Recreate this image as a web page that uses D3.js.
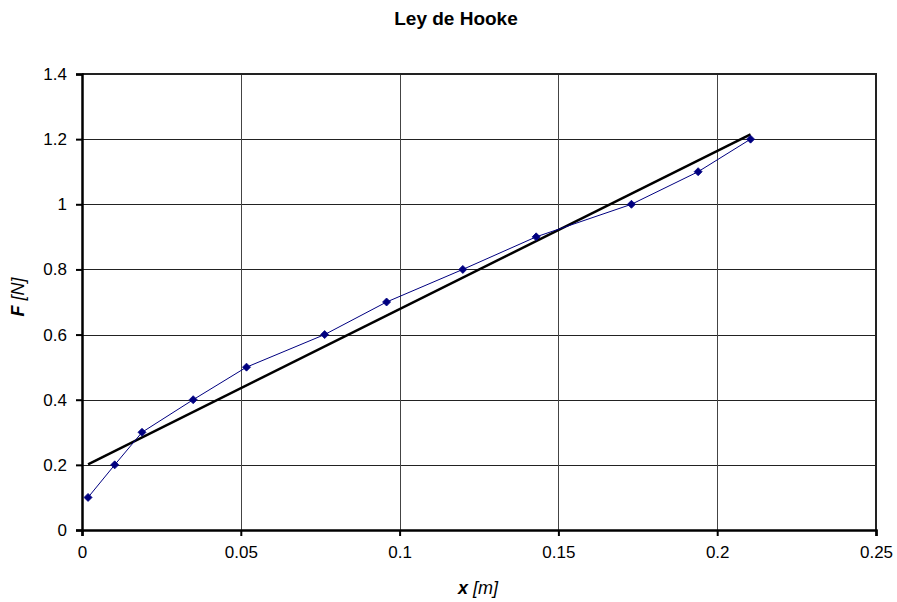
<!DOCTYPE html>
<html>
<head>
<meta charset="utf-8">
<title>Ley de Hooke</title>
<script src="https://d3js.org/d3.v7.min.js"></script>
<style>
  body { margin: 0; background: #fff; }
  text { font-family: "Liberation Sans", Arial, sans-serif; fill: #000; }
</style>
</head>
<body>
<svg id="chart" width="897" height="602"></svg>
<script>
// elongation [m] and force [N]
var xData = [0.0019, 0.0103, 0.0189, 0.035, 0.0518, 0.0764, 0.0959, 0.1199, 0.143, 0.173, 0.194, 0.2105];
var fData = [0.1, 0.2, 0.3, 0.4, 0.5, 0.6, 0.7, 0.8, 0.9, 1.0, 1.1, 1.2];
var xTicks = [0, 0.05, 0.1, 0.15, 0.2, 0.25];
var yTicks = [0, 0.2, 0.4, 0.6, 0.8, 1, 1.2, 1.4];

var svg = d3.select("#chart");
var pLeft = 82, pRight = 876, pTop = 74, pBottom = 530;

var x = d3.scaleLinear().domain([0, 0.25]).range([pLeft, pRight]);
var y = d3.scaleLinear().domain([0, 1.4]).range([pBottom, pTop]);

// gridlines
svg.append("g").selectAll("line")
  .data(yTicks.slice(1))
  .enter().append("line")
    .attr("x1", pLeft).attr("x2", pRight)
    .attr("y1", function(d) { return Math.round(y(d)) + 0.5; })
    .attr("y2", function(d) { return Math.round(y(d)) + 0.5; })
    .attr("stroke", "#222").attr("stroke-width", 1);

svg.append("g").selectAll("line")
  .data(xTicks.slice(1, -1))
  .enter().append("line")
    .attr("y1", pTop).attr("y2", pBottom)
    .attr("x1", function(d) { return Math.round(x(d)) + 0.5; })
    .attr("x2", function(d) { return Math.round(x(d)) + 0.5; })
    .attr("stroke", "#444").attr("stroke-width", 1);

// plot frame (top / right)
svg.append("path")
  .attr("d", "M" + pLeft + "," + pTop + "H" + pRight + "V" + pBottom)
  .attr("fill", "none").attr("stroke", "#222").attr("stroke-width", 2);

// axes
var xAxis = svg.append("g")
  .attr("transform", "translate(0," + pBottom + ")")
  .call(d3.axisBottom(x).tickValues(xTicks).tickSize(6).tickPadding(10)
    .tickFormat(function(d) { return String(+d.toFixed(2)); }));
var yAxis = svg.append("g")
  .attr("transform", "translate(" + pLeft + ",0)")
  .call(d3.axisLeft(y).tickValues(yTicks).tickSize(6).tickPadding(9)
    .tickFormat(function(d) { return String(+d.toFixed(1)); }));

[xAxis, yAxis].forEach(function(a) {
  a.select(".domain").attr("stroke", "#000").attr("stroke-width", 2.5);
  a.selectAll(".tick line").attr("stroke", "#000").attr("stroke-width", 2);
  a.selectAll(".tick text").style("font-size", "17px")
    .style("font-family", "'Liberation Sans', Arial, sans-serif").attr("fill", "#000");
});

// least-squares trendline
var mx = d3.mean(xData),
    my = d3.mean(fData),
    sxy = d3.sum(xData, function(d, i) { return (d - mx) * (fData[i] - my); }),
    sxx = d3.sum(xData, function(d) { return (d - mx) * (d - mx); }),
    slope = sxy / sxx,
    icpt = my - slope * mx;
var xMin = d3.min(xData), xMax = d3.max(xData);

svg.append("line")
  .attr("x1", x(xMin)).attr("y1", y(icpt + slope * xMin))
  .attr("x2", x(xMax)).attr("y2", y(icpt + slope * xMax))
  .attr("stroke", "#000").attr("stroke-width", 2.5);

// data series
var pts = xData.map(function(d, i) { return [d, fData[i]]; });
svg.append("path")
  .datum(pts)
  .attr("fill", "none")
  .attr("stroke", "#000080")
  .attr("stroke-width", 1)
  .attr("d", d3.line().x(function(d) { return x(d[0]); }).y(function(d) { return y(d[1]); }));

svg.append("g").selectAll("path")
  .data(pts)
  .enter().append("path")
    .attr("transform", function(d) { return "translate(" + x(d[0]) + "," + y(d[1]) + ")"; })
    .attr("d", "M0,-4L4,0L0,4L-4,0Z")
    .attr("fill", "#000080")
    .attr("stroke", "#000080")
    .attr("stroke-width", 0.8);

// title and axis labels
svg.append("text")
  .attr("x", 456).attr("y", 25)
  .attr("text-anchor", "middle")
  .style("font-size", "19px").style("font-weight", "bold")
  .text("Ley de Hooke");

var xl = svg.append("text")
  .attr("x", 478).attr("y", 594)
  .attr("text-anchor", "middle")
  .style("font-size", "18px").style("font-style", "italic");
xl.append("tspan").style("font-weight", "bold").text("x");
xl.append("tspan").attr("dx", 5).text("[m]");

var yl = svg.append("text")
  .attr("transform", "translate(24,297) rotate(-90)")
  .attr("text-anchor", "middle")
  .style("font-size", "18px").style("font-style", "italic");
yl.append("tspan").style("font-weight", "bold").text("F");
yl.append("tspan").attr("dx", 5).text("[N]");
</script>
</body>
</html>
